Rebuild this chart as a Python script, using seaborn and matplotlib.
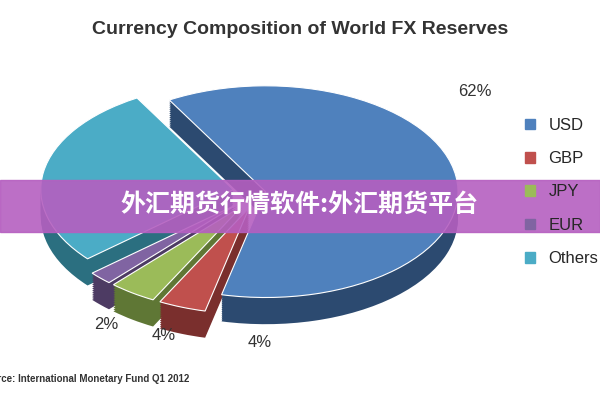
import matplotlib
matplotlib.use("Agg")
import matplotlib.pyplot as plt
import seaborn as sns
import numpy as np

sns.set_style("white")
plt.rcParams['font.family'] = ['Liberation Sans', 'Noto Sans CJK SC', 'DejaVu Sans']

currencies = ["USD", "GBP", "JPY", "EUR", "Others"]
shares = [62, 4, 4, 2, 28]
labels = ["62%", "4%", "4%", "2%", "28%"]
colors = ["#4f81bd", "#c0504d", "#9bbb59", "#8064a2", "#4bacc6"]
dark = ["#2c4a70", "#7a2f2d", "#5f7735", "#4d3b63", "#2b6f80"]
explode = [0.03, 0.16, 0.16, 0.16, 0.14]

fig = plt.figure(figsize=(6, 4), dpi=100)
ax = fig.add_axes([0.0, 0.12, 0.85, 0.72])
for k in range(14, 0, -1):
    w, _ = ax.pie(shares, colors=dark, startangle=120, counterclock=False,
                  explode=explode, center=(0, -k * 0.018),
                  wedgeprops=dict(linewidth=0))
w, _ = ax.pie(shares, colors=colors, startangle=120, counterclock=False,
              explode=explode, wedgeprops=dict(linewidth=0.8, edgecolor="white"))
ax.set_aspect(0.55)
ax.set_xlim(-1.35, 1.3)
ax.set_ylim(-1.5, 1.2)
pos = [(1.12, 0.95), (0.0, -1.42), (-0.5, -1.35), (-0.8, -1.25), (-1.48, 0.0)]
for (x, y), t in zip(pos, labels):
    ax.text(x, y, t, fontsize=12, color="#333333", ha="center", va="center")

fig.text(0.5, 0.925, "Currency Composition of World FX Reserves", ha="center",
         va="center", fontsize=14, fontweight="bold", color="#333333")
handles = [plt.Rectangle((0, 0), 1, 1, color=c) for c in colors]
fig.legend(handles, currencies, loc="center left", bbox_to_anchor=(0.85, 0.52),
           frameon=False, fontsize=12, handlelength=0.6, handleheight=0.6,
           labelspacing=1.1)
fig.text(-0.035, 0.045, "Source: International Monetary Fund Q1 2012", fontsize=7,
         fontweight="bold", color="#333333", ha="left")
# banner overlay
fig.patches.append(plt.Rectangle((0, 0.42), 1, 0.13, transform=fig.transFigure,
                                 color="#b55fc0", alpha=0.9, zorder=5))
fig.text(0.5, 0.487, "外汇期货行情软件:外汇期货平台", ha="center", va="center",
         fontsize=18, fontweight="bold", color="white", zorder=6,
         family=['Noto Sans CJK SC', 'DejaVu Sans'])
fig.savefig("out.png", dpi=100)
